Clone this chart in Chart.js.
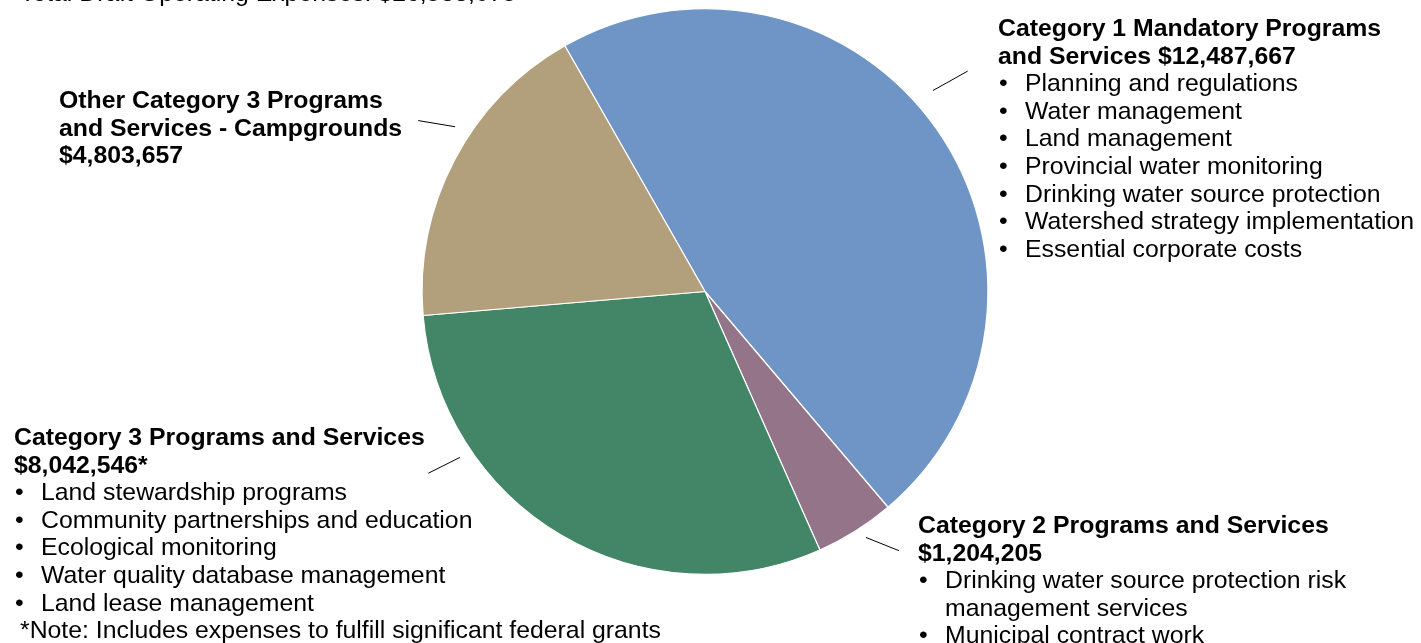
<!DOCTYPE html>
<html>
<head>
<meta charset="utf-8">
<script src="https://cdn.jsdelivr.net/npm/chart.js@4.4.1/dist/chart.umd.min.js"></script>
<style>
    html, body { margin: 0; padding: 0; background: #fff; }
    #wrap { position: relative; width: 1421px; height: 643px; overflow: hidden; }
    #pieChart { position: absolute; left: 0; top: 0; }
    .lbl {
        position: absolute;
        font-family: "Liberation Sans", Arial, sans-serif;
        font-size: 24.8px;
        line-height: 27.6px;
        color: #000;
        white-space: nowrap;
    }
    .lbl b { font-weight: bold; display: block; }
    .lbl .it { position: relative; padding-left: 27px; }
    .lbl .it:before { content: "\2022"; position: absolute; left: 1px; top: 0; }
</style>
</head>
<body>
<div id="wrap">
    <canvas id="pieChart" width="1421" height="643"></canvas>
    <div class="lbl" id="title" style="left:20px; top:-21px;"></div>
    <div class="lbl" id="lbl0" style="left:998px; top:14px;"></div>
    <div class="lbl" id="lbl1" style="left:918px; top:511px;"></div>
    <div class="lbl" id="lbl2" style="left:14px; top:423px;"></div>
    <div class="lbl" id="lbl3" style="left:59px; top:86px;"></div>
    <div class="lbl" id="note" style="left:20px; top:616px;"></div>
</div>
<script>
// slice data, clockwise starting from the blue slice
var categories = [
    "Category 1 Mandatory Programs and Services",
    "Category 2 Programs and Services",
    "Category 3 Programs and Services",
    "Other Category 3 Programs and Services - Campgrounds"
];
var expenses = [12487667, 1204205, 8042546, 4803657];
var sliceColors = ['#6f94c6', '#937488', '#428667', '#b2a07c'];

// label text, one block per slice
var headLines = [
    ["Category 1 Mandatory Programs", "and Services $12,487,667"],
    ["Category 2 Programs and Services", "$1,204,205"],
    ["Category 3 Programs and Services", "$8,042,546*"],
    ["Other Category 3 Programs", "and Services - Campgrounds", "$4,803,657"]
];
var bulletItems = [
    ["Planning and regulations", "Water management", "Land management",
     "Provincial water monitoring", "Drinking water source protection",
     "Watershed strategy implementation", "Essential corporate costs"],
    ["Drinking water source protection risk<br>management services", "Municipal contract work"],
    ["Land stewardship programs", "Community partnerships and education",
     "Ecological monitoring", "Water quality database management", "Land lease management"],
    []
];
var titleText = "Total Draft Operating Expenses: $";
var noteText = "*Note: Includes expenses to fulfill significant federal grants";

// leader lines: [angle deg clockwise from top, radius factor] at the pie end and the label end
var leaderStart = [[48.6, 1.074], [146.8, 1.039], [235.9, 1.046], [303.4, 1.058]];
var leaderEnd = [[50.0, 1.212], [143.2, 1.144], [236.7, 1.170], [300.8, 1.180]];

document.addEventListener("DOMContentLoaded", function () {
    var total = expenses.reduce(function (a, b) { return a + b; }, 0);
    document.getElementById("title").textContent = titleText + total.toLocaleString("en-US");
    document.getElementById("note").textContent = noteText;

    for (var i = 0; i < categories.length; i++) {
        var html = "";
        headLines[i].forEach(function (t) { html += "<b>" + t + "</b>"; });
        bulletItems[i].forEach(function (t) { html += '<div class="it">' + t + "</div>"; });
        document.getElementById("lbl" + i).innerHTML = html;
    }

    var leaderLines = {
        id: 'leaderLines',
        afterDatasetsDraw: function (chart) {
            var arc = chart.getDatasetMeta(0).data[0];
            var c = chart.ctx;
            var r = arc.outerRadius;
            function pt(p) {
                var a = p[0] * Math.PI / 180;
                return [arc.x + Math.sin(a) * r * p[1], arc.y - Math.cos(a) * r * p[1]];
            }
            c.save();
            c.strokeStyle = '#000';
            c.lineWidth = 1;
            for (var i = 0; i < leaderStart.length; i++) {
                var p0 = pt(leaderStart[i]), p1 = pt(leaderEnd[i]);
                c.beginPath();
                c.moveTo(p0[0], p0[1]);
                c.lineTo(p1[0], p1[1]);
                c.stroke();
            }
            c.restore();
        }
    };

    var ctx = document.getElementById("pieChart").getContext("2d");
    var chart = new Chart(ctx, {
        type: 'pie',
        data: {
            labels: categories,
            datasets: [{
                data: expenses,
                backgroundColor: sliceColors,
                borderColor: '#ffffff',
                borderWidth: 1.2
            }]
        },
        options: {
            responsive: false,
            animation: false,
            rotation: -29.7,
            layout: {
                padding: { left: 421, right: 432, top: 8, bottom: 68 }
            },
            plugins: {
                legend: { display: false },
                tooltip: { enabled: false }
            }
        },
        plugins: [leaderLines]
    });
});
</script>
</body>
</html>
